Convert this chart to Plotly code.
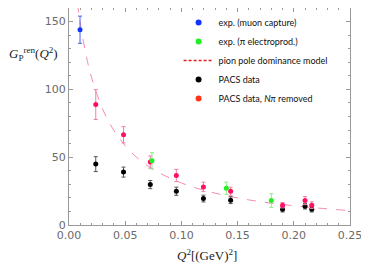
import plotly.graph_objects as go

# data
mu_x = [0.0098]
mu_y = [144.0]
mu_e = [10.0]

el_x = [0.0738, 0.140, 0.180]
el_y = [47.3, 27.1, 18.0]
el_e = [6.0, 4.5, 5.0]

pacs_x = [0.0238, 0.0485, 0.0723, 0.0955, 0.1196, 0.1438, 0.190, 0.210, 0.216]
pacs_y = [44.9, 39.0, 29.8, 24.9, 19.5, 18.3, 11.6, 13.8, 11.6]
pacs_e = [5.5, 3.7, 3.0, 3.0, 2.5, 2.5, 2.0, 2.0, 2.0]

npi_x = [0.0238, 0.0485, 0.0723, 0.0955, 0.1196, 0.1438, 0.190, 0.210, 0.216]
npi_y = [88.8, 66.5, 46.4, 36.5, 28.1, 24.9, 14.6, 18.0, 14.6]
npi_e = [11.0, 6.0, 4.5, 4.5, 3.5, 3.0, 2.0, 3.0, 2.5]

model_x = [0.0075, 0.01, 0.015, 0.02, 0.03, 0.04, 0.05, 0.06, 0.07, 0.08,
           0.10, 0.12, 0.14, 0.16, 0.18, 0.20, 0.22, 0.25]
model_y = [163.4, 148.8, 126.0, 109.0, 85.3, 69.6, 58.5, 50.1, 43.7, 38.6,
           31.0, 25.6, 21.6, 18.5, 16.1, 14.2, 12.6, 10.6]

labels = ["exp. (muon capture)", "exp. (\u03c0 electroprod.)", "pion pole dominance model",
          "PACS data", "PACS data, <i>N\u03c0</i> removed"]

fig = go.Figure()

# model curve
fig.add_trace(go.Scatter(x=model_x, y=model_y, mode="lines", line=dict(color="#f58cb0", width=1, dash="dash"),
                         line_shape="spline", showlegend=False, hoverinfo="skip"))


def pts(x, y, e, col, ecol):
    fig.add_trace(go.Scatter(x=x, y=y, mode="markers", marker=dict(color=col, size=5),
                             error_y=dict(type="data", array=e, color=ecol, thickness=1, width=2),
                             showlegend=False))


pts(pacs_x, pacs_y, pacs_e, "#000000", "#555555")
pts(npi_x, npi_y, npi_e, "#ff1060", "#f07fa5")
pts(el_x, el_y, el_e, "#22ee22", "#8fe88f")
pts(mu_x, mu_y, mu_e, "#1133ff", "#4a62e8")

# legend entries
leg = [("#1133ff", "markers"), ("#22ee22", "markers"), ("#e02020", "lines"), ("#000000", "markers"), ("#ff3318", "markers")]
for (c, m), lab in zip(leg, labels):
    if m == "markers":
        fig.add_trace(go.Scatter(x=[None], y=[None], mode="markers", marker=dict(color=c, size=6), name=lab))
    else:
        fig.add_trace(go.Scatter(x=[None], y=[None], mode="lines", line=dict(color=c, width=1.3, dash="3px,2px"), name=lab))

axis_common = dict(showline=True, linecolor="#999999", linewidth=1, mirror="allticks", ticks="inside",
                   tickcolor="#999999", ticklen=4, showgrid=False, zeroline=False,
                   tickfont=dict(family="DejaVu Sans", size=11, color="#6a6a6a"))

fig.update_xaxes(range=[0, 0.25], dtick=0.05, tickformat=".2f",
                 minor=dict(dtick=0.01, ticks="inside", ticklen=2, tickcolor="#999999"), **axis_common)
fig.update_yaxes(range=[0, 160], dtick=50,
                 minor=dict(dtick=10, ticks="inside", ticklen=2, tickcolor="#999999"), **axis_common)

fig.add_annotation(xref="paper", yref="paper", x=0.49, y=-0.138, xanchor="center", yanchor="middle",
                   text="<i>Q</i><sup>2</sup>[(GeV)<sup>2</sup>]", showarrow=False,
                   font=dict(family="Liberation Serif", size=13, color="#222222"))
fig.add_annotation(xref="paper", yref="paper", x=-0.222, y=0.79, xanchor="left", yanchor="middle",
                   text="<i>G</i><sub>P</sub><sup>ren</sup>(<i>Q</i><sup>2</sup>)", showarrow=False,
                   font=dict(family="Liberation Serif", size=13, color="#222222"))

# the page body adds an 8px offset, so the figure is 8px smaller and margins shifted
fig.update_layout(width=361, height=265, margin=dict(l=61, r=19, t=0, b=48),
                  paper_bgcolor="white", plot_bgcolor="white",
                  legend=dict(x=0.39, y=1.0, xanchor="left", yanchor="top", bgcolor="rgba(0,0,0,0)",
                              font=dict(family="Lato", size=9, color="#111111"), itemwidth=30,
                              tracegroupgap=0))

fig.write_html("out.html")
